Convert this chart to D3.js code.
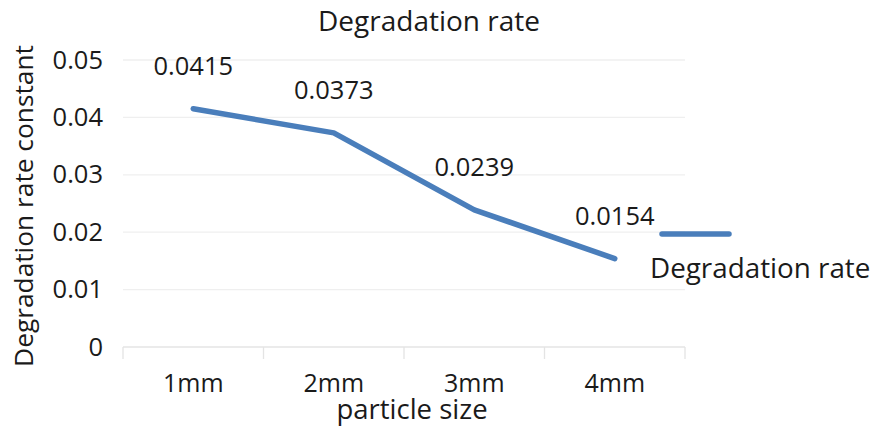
<!DOCTYPE html>
<html>
<head>
<meta charset="utf-8">
<script src="https://cdn.jsdelivr.net/npm/d3@7"></script>
<style>
  body { margin: 0; background: #fff; }
  text { font-family: "Open Sans", "Noto Sans", sans-serif; fill: #1a1a1a; }
</style>
</head>
<body>
<div id="wrapper"></div>
<script>
const categories = ["1mm", "2mm", "3mm", "4mm"]
const rates = [0.0415, 0.0373, 0.0239, 0.0154]
const yTicks = [0, 0.01, 0.02, 0.03, 0.04, 0.05]
const seriesName = "Degradation rate"

const dimensions = {
  width: 872,
  height: 427,
  margin: { top: 60, right: 187, bottom: 80, left: 123 },
}
dimensions.boundedWidth = dimensions.width - dimensions.margin.left - dimensions.margin.right
dimensions.boundedHeight = dimensions.height - dimensions.margin.top - dimensions.margin.bottom

const svg = d3.select("#wrapper")
  .append("svg")
  .attr("width", dimensions.width)
  .attr("height", dimensions.height)

const bounds = svg.append("g")
  .attr("transform", `translate(${dimensions.margin.left},${dimensions.margin.top})`)

const xScale = d3.scaleBand()
  .domain(categories)
  .range([0, dimensions.boundedWidth])

const yScale = d3.scaleLinear()
  .domain([0, 0.05])
  .range([dimensions.boundedHeight, 0])

// gridlines
bounds.selectAll(".grid")
  .data(yTicks)
  .join("line")
  .attr("x1", 0)
  .attr("x2", dimensions.boundedWidth)
  .attr("y1", d => yScale(d))
  .attr("y2", d => yScale(d))
  .attr("stroke", d => d === 0 ? "#e4e4e4" : "#efefef")
  .attr("stroke-width", 1.3)

// x axis with category separators
const xAxis = bounds.append("g")
  .attr("transform", `translate(0,${dimensions.boundedHeight})`)
  .call(d3.axisBottom(xScale).tickSize(0).tickPadding(27))
xAxis.select(".domain").remove()
xAxis.selectAll("text").style("font-size", "25px").attr("fill", "#1a1a1a")

bounds.selectAll(".sep")
  .data(categories.map((c, i) => i).concat([categories.length]))
  .join("line")
  .attr("x1", i => i * xScale.step())
  .attr("x2", i => i * xScale.step())
  .attr("y1", dimensions.boundedHeight)
  .attr("y2", dimensions.boundedHeight + 12)
  .attr("stroke", "#e4e4e4")
  .attr("stroke-width", 1.3)

// y axis
const yAxis = bounds.append("g")
  .call(d3.axisLeft(yScale).tickValues(yTicks).tickSize(0).tickPadding(20)
    .tickFormat(d => d === 0 ? "0" : d3.format(".2f")(d)))
yAxis.select(".domain").remove()
yAxis.selectAll("text").style("font-size", "25.5px").attr("fill", "#1a1a1a")

// line
const lineGen = d3.line()
  .x((d, i) => xScale(categories[i]) + xScale.bandwidth() / 2)
  .y(d => yScale(d))

bounds.append("path")
  .datum(rates)
  .attr("d", lineGen)
  .attr("fill", "none")
  .attr("stroke", "#4a7ebb")
  .attr("stroke-width", 5.5)
  .attr("stroke-linecap", "round")
  .attr("stroke-linejoin", "round")

// data labels
bounds.selectAll(".label")
  .data(rates)
  .join("text")
  .attr("x", (d, i) => xScale(categories[i]) + xScale.bandwidth() / 2)
  .attr("y", d => yScale(d) - 34)
  .attr("text-anchor", "middle")
  .style("font-size", "25.5px")
  .text(d => d)

// title
svg.append("text")
  .attr("x", 429)
  .attr("y", 31)
  .attr("text-anchor", "middle")
  .style("font-size", "28px")
  .text("Degradation rate")

// axis titles
svg.append("text")
  .attr("x", 412)
  .attr("y", 419)
  .attr("text-anchor", "middle")
  .style("font-size", "27.5px")
  .text("particle size")

svg.append("text")
  .attr("transform", `translate(33,206) rotate(-90)`)
  .attr("text-anchor", "middle")
  .style("font-size", "26.3px")
  .text("Degradation rate constant")

// legend
const legend = svg.append("g")
legend.append("line")
  .attr("x1", 662).attr("x2", 729)
  .attr("y1", 234).attr("y2", 234)
  .attr("stroke", "#4a7ebb")
  .attr("stroke-width", 5.5)
  .attr("stroke-linecap", "round")
legend.append("text")
  .attr("x", 650)
  .attr("y", 278)
  .style("font-size", "27.8px")
  .text(seriesName)
</script>
</body>
</html>
